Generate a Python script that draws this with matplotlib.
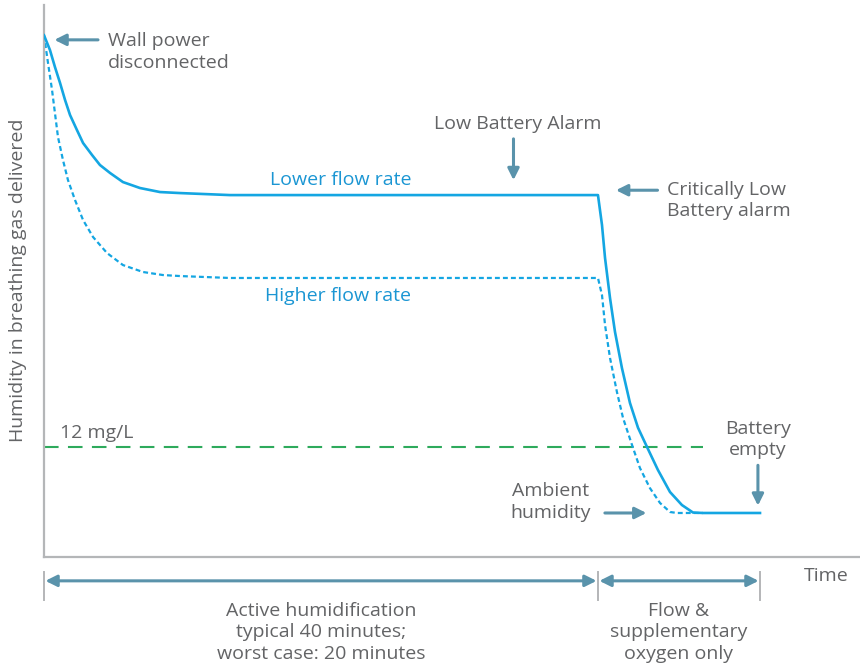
import matplotlib
matplotlib.use('Agg')
import matplotlib.pyplot as plt

# humidity curves (time in minutes, humidity in mg/L)
t_lower = [0, 0.43, 0.79, 1.16, 1.52, 1.88, 2.38, 2.82, 3.47, 4.04, 4.77, 5.70,
           6.93, 8.38, 9.82, 13.43, 40.0,
           40.29, 40.51, 40.87, 41.23, 41.73, 42.31, 42.89, 43.54, 44.33, 45.20,
           46.06, 46.86, 47.58, 51.70]
h_lower = [56.9, 55.29, 53.44, 51.69, 49.84, 48.20, 46.56, 45.15, 43.84, 42.75, 41.88, 40.89,
           40.24, 39.80, 39.69, 39.47, 39.47,
           36.21, 32.61, 28.24, 24.54, 20.61, 16.80, 14.10, 12.0, 9.49, 7.09,
           5.67, 4.85, 4.8, 4.8]

t_higher = [0, 0.29, 0.58, 0.79, 1.01, 1.37, 1.73, 2.24, 2.82, 3.54, 4.55, 5.70,
            7.15, 8.59, 9.82, 13.43, 40.0,
            40.29, 40.51, 40.87, 41.37, 41.81, 42.46, 43.03, 43.75, 44.48, 45.20,
            45.70, 47.58]
h_higher = [56.9, 53.87, 50.93, 48.42, 45.80, 43.29, 41.11, 38.93, 36.75, 34.90, 33.15, 31.84,
            31.08, 30.75, 30.64, 30.43, 30.43,
            28.57, 25.30, 21.70, 17.99, 15.16, 12.21, 9.71, 7.52, 5.89, 4.91,
            4.8, 4.8]

threshold = 12          # mg/L
threshold_end = 47.6
t_alarm = 40.0          # critically low battery
t_empty = 51.7          # battery empty
h_ambient = 4.8

BLUE = '#14a6e2'
LBL_BLUE = '#1b96d3'
ARROW = '#5a93ab'
GRAY = '#636466'
SPINE = '#b4b6b8'
GREEN = '#2eaa5c'

plt.rcParams['font.family'] = ['Open Sans', 'DejaVu Sans']

fig = plt.figure(figsize=(8.6, 6.66), dpi=100)
ax = fig.add_axes([44/860, 109/666, 816/860, 552/666])
ax.set_xlim(0, 58.92)
ax.set_ylim(0, 60.2)
for s in ('top', 'right'):
    ax.spines[s].set_visible(False)
for s in ('left', 'bottom'):
    ax.spines[s].set_color(SPINE)
    ax.spines[s].set_linewidth(1.6)
ax.set_xticks([])
ax.set_yticks([])

ax.plot(t_lower, h_lower, color=BLUE, lw=1.9, solid_joinstyle='round', zorder=3)
ax.plot(t_higher, h_higher, color=BLUE, lw=1.6, dashes=(2.2, 1.4),
        dash_joinstyle='round', zorder=2)
ax.plot([0, threshold_end], [threshold, threshold], color=GREEN, lw=1.5,
        dashes=(7, 4.5), zorder=1)

def arrow(x1, y1, x2, y2, style='-|>'):
    ax.annotate('', xy=(x2, y2), xytext=(x1, y1), annotation_clip=False,
                arrowprops=dict(arrowstyle=style, color=ARROW, lw=2.2,
                                mutation_scale=17, shrinkA=0, shrinkB=0))

FS = 14
txt = dict(color=GRAY, fontsize=FS, linespacing=1.25)

# annotations
ax.text(4.6, 55.1, 'Wall power\ndisconnected', ha='left', va='center', **txt)
arrow(3.9, 56.4, 0.75, 56.4)

ax.text(34.2, 47.2, 'Low Battery Alarm', ha='center', va='center', **txt)
arrow(33.9, 45.6, 33.9, 41.1)

ax.text(21.4, 41.1, 'Lower flow rate', ha='center', va='center',
        color=LBL_BLUE, fontsize=FS)
ax.text(21.2, 28.5, 'Higher flow rate', ha='center', va='center',
        color=LBL_BLUE, fontsize=FS)

ax.text(45.0, 38.9, 'Critically Low\nBattery alarm', ha='left', va='center', **txt)
arrow(44.3, 40.0, 41.3, 40.0)

ax.text(1.16, 13.5, '12 mg/L', ha='left', va='center', **txt)

ax.text(t_empty - 0.15, 12.8, 'Battery\nempty', ha='center', va='center', **txt)
arrow(t_empty - 0.15, 10.0, t_empty - 0.15, 5.6)

ax.text(36.6, 6.0, 'Ambient\nhumidity', ha='center', va='center', **txt)
arrow(40.5, h_ambient, 43.5, h_ambient)

ax.text(56.5, -2.1, 'Time', ha='center', va='center', clip_on=False, **txt)

# time spans below the axis
for x in (0, t_alarm, t_empty):
    ax.plot([x, x], [-1.6, -4.7], color=SPINE, lw=1.4, clip_on=False)
arrow(0.1, -2.6, t_alarm - 0.1, -2.6, '<|-|>')
arrow(t_alarm + 0.1, -2.6, t_empty - 0.1, -2.6, '<|-|>')

ax.text(t_alarm / 2, -8.2, 'Active humidification\ntypical 40 minutes;\nworst case: 20 minutes',
        ha='center', va='center', clip_on=False, **txt)
ax.text((t_alarm + t_empty) / 2, -8.2, 'Flow &\nsupplementary\noxygen only',
        ha='center', va='center', clip_on=False, **txt)

fig.text(18/860, 1 - 280/666, 'Humidity in breathing gas delivered', rotation=90,
         ha='center', va='center', color=GRAY, fontsize=FS)

fig.savefig('out.png', dpi=100, facecolor='white')
